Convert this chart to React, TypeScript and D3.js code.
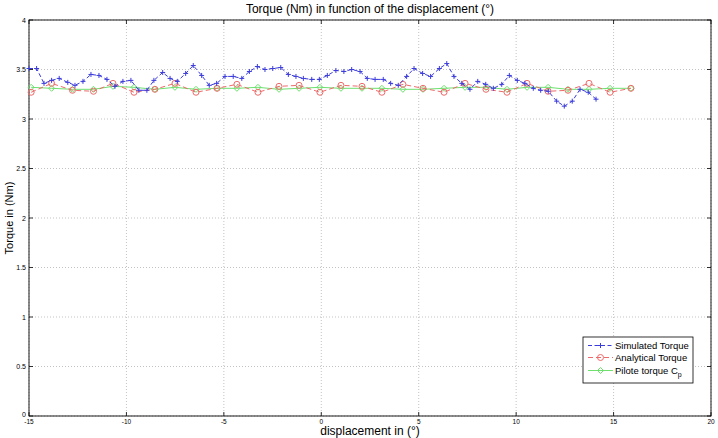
import * as d3 from 'd3';

// Simulated torque (blue, dashed, + markers)
const simX = [-15.0, -14.61, -14.23, -13.84, -13.45, -13.01, -12.64, -12.23, -11.82, -11.41,
  -11.0, -10.59, -10.18, -9.77, -9.36, -8.95, -8.59, -8.14, -7.76, -7.39,
  -6.96, -6.57, -6.14, -5.75, -5.37, -4.94, -4.52, -4.08, -3.69, -3.28,
  -2.89, -2.49, -2.08, -1.69, -1.3, -0.92, -0.49, -0.1, 0.31, 0.75,
  1.16, 1.56, 1.99, 2.36, 2.76, 3.18, 3.56, 3.95, 4.38, 4.76,
  5.2, 5.61, 6.06, 6.44, 6.81, 7.21, 7.63, 8.03, 8.44, 8.83,
  9.26, 9.65, 10.06, 10.45, 10.88, 11.26, 11.65, 12.08, 12.47, 12.88,
  13.28, 13.7, 14.1];
const simY = [3.51, 3.51, 3.36, 3.39, 3.41, 3.37, 3.34, 3.38, 3.45, 3.44,
  3.4, 3.33, 3.38, 3.39, 3.29, 3.29, 3.39, 3.47, 3.41, 3.38,
  3.46, 3.54, 3.44, 3.34, 3.36, 3.43, 3.43, 3.41, 3.48, 3.53,
  3.5, 3.51, 3.52, 3.45, 3.43, 3.41, 3.4, 3.4, 3.44, 3.49,
  3.48, 3.5, 3.48, 3.41, 3.4, 3.4, 3.36, 3.34, 3.43, 3.51,
  3.46, 3.43, 3.51, 3.56, 3.43, 3.36, 3.3, 3.38, 3.35, 3.31,
  3.35, 3.44, 3.39, 3.36, 3.31, 3.29, 3.28, 3.18, 3.13, 3.18,
  3.3, 3.27, 3.2];

// Analytical torque (red, dashed, circles) and pilote torque (green)
const anaX = [-14.89, -13.84, -12.77, -11.69, -10.69, -9.61, -8.54, -7.51, -6.43, -5.35,
  -4.33, -3.25, -2.17, -1.14, -0.07, 1.01, 2.09, 3.11, 4.19, 5.22,
  6.3, 7.38, 8.45, 9.53, 10.56, 11.64, 12.66, 13.74, 14.82, 15.89];
const anaY = [3.27, 3.36, 3.29, 3.28, 3.36, 3.27, 3.3, 3.36, 3.27, 3.31,
  3.35, 3.27, 3.33, 3.34, 3.27, 3.34, 3.33, 3.27, 3.35, 3.31,
  3.27, 3.36, 3.3, 3.27, 3.36, 3.28, 3.29, 3.36, 3.27, 3.31];
const pilY = [3.32, 3.31, 3.3, 3.3, 3.33, 3.32, 3.3, 3.32, 3.3, 3.31,
  3.31, 3.32, 3.3, 3.31, 3.32, 3.31, 3.31, 3.31, 3.3, 3.3,
  3.31, 3.32, 3.32, 3.3, 3.32, 3.32, 3.3, 3.3, 3.31, 3.31];

const xTicks = [-15, -10, -5, 0, 5, 10, 15, 20];
const yTicks = [0, 0.5, 1, 1.5, 2, 2.5, 3, 3.5, 4];

const W = 718;
const H = 438;
const m = { top: 20, right: 7, bottom: 22, left: 29 };

const blue = '#3c3cdc';
const red = '#ee6a6a';
const green = '#6ee06e';
const font = '"Liberation Sans", Arial, sans-serif';

export default function App() {
  const x = d3.scaleLinear().domain([-15, 20]).range([m.left, W - m.right]);
  const y = d3.scaleLinear().domain([0, 4]).range([H - m.bottom, m.top]);
  const x0 = m.left, x1 = W - m.right, y0 = H - m.bottom, y1 = m.top;

  const line = d3.line<[number, number]>().x(d => x(d[0])).y(d => y(d[1]));
  const sim = simX.map((v, i) => [v, simY[i]] as [number, number]);
  const ana = anaX.map((v, i) => [v, anaY[i]] as [number, number]);
  const pil = anaX.map((v, i) => [v, pilY[i]] as [number, number]);

  const plus = (cx: number, cy: number, c: string, k: string) => (
    <path key={k} d={`M${cx - 2.5},${cy}H${cx + 2.5}M${cx},${cy - 2.5}V${cy + 2.5}`} stroke={c} strokeWidth={1} />
  );
  const diamond = (cx: number, cy: number, c: string, k: string) => (
    <path key={k} d={`M${cx},${cy - 3}L${cx + 3},${cy}L${cx},${cy + 3}L${cx - 3},${cy}Z`} fill="none" stroke={c} strokeWidth={1} />
  );

  const lg = { x: 583, y: 337, w: 110, h: 46 };
  const rows = [345.5, 357.5, 370.5];

  return (
    <svg width={W} height={H} style={{ position: 'absolute', left: 0, top: 0, background: '#fff' }} fontFamily={font}>
      <rect width={W} height={H} fill="#fff" />
      {/* grid */}
      {xTicks.map(t => (
        <line key={'gx' + t} x1={x(t)} x2={x(t)} y1={y1} y2={y0} stroke="#b4b4b4" strokeWidth={0.8} strokeDasharray="1,2" />
      ))}
      {yTicks.map(t => (
        <line key={'gy' + t} x1={x0} x2={x1} y1={y(t)} y2={y(t)} stroke="#b4b4b4" strokeWidth={0.8} strokeDasharray="1,2" />
      ))}
      {/* ticks, inside on all four sides */}
      {xTicks.map(t => (
        <g key={'tx' + t} stroke="#000" strokeWidth={0.8}>
          <line x1={x(t)} x2={x(t)} y1={y0} y2={y0 - 4} />
          <line x1={x(t)} x2={x(t)} y1={y1} y2={y1 + 4} />
        </g>
      ))}
      {yTicks.map(t => (
        <g key={'ty' + t} stroke="#000" strokeWidth={0.8}>
          <line x1={x0} x2={x0 + 4} y1={y(t)} y2={y(t)} />
          <line x1={x1} x2={x1 - 4} y1={y(t)} y2={y(t)} />
        </g>
      ))}
      <rect x={x0} y={y1} width={x1 - x0} height={y0 - y1} fill="none" stroke="#000" strokeWidth={0.9} />
      {/* tick labels */}
      {xTicks.map(t => (
        <text key={'lx' + t} x={x(t)} y={y0 + 8} fontSize={6.5} textAnchor="middle" fill="#000">{t}</text>
      ))}
      {yTicks.map(t => (
        <text key={'ly' + t} x={x0 - 3} y={y(t) + (t === 0 ? 0.5 : 2.5)} fontSize={7} textAnchor="end" fill="#000">{t}</text>
      ))}

      {/* series */}
      <path d={line(pil) ?? ''} fill="none" stroke={green} strokeWidth={1} />
      {pil.map((d, i) => diamond(x(d[0]), y(d[1]), green, 'p' + i))}
      <path d={line(ana) ?? ''} fill="none" stroke={red} strokeWidth={1} strokeDasharray="5,3" />
      {ana.map((d, i) => (
        <circle key={'a' + i} cx={x(d[0])} cy={y(d[1])} r={3} fill="none" stroke={red} strokeWidth={1} />
      ))}
      <path d={line(sim) ?? ''} fill="none" stroke={blue} strokeWidth={1} strokeDasharray="4,2.5" />
      {sim.map((d, i) => plus(x(d[0]), y(d[1]), blue, 's' + i))}

      {/* legend */}
      <rect x={lg.x} y={lg.y} width={lg.w} height={lg.h} fill="#fff" stroke="#000" strokeWidth={0.8} />
      <line x1={588} x2={613} y1={rows[0]} y2={rows[0]} stroke={blue} strokeDasharray="4,2.5" />
      {plus(600.5, rows[0], blue, 'lg0')}
      <line x1={588} x2={613} y1={rows[1]} y2={rows[1]} stroke={red} strokeDasharray="5,3" />
      <circle cx={600.5} cy={rows[1]} r={3} fill="none" stroke={red} />
      <line x1={588} x2={613} y1={rows[2]} y2={rows[2]} stroke={green} />
      {diamond(600.5, rows[2], green, 'lg2')}
      <text x={615} y={rows[0] + 3.3} fontSize={9.5} fill="#000">Simulated Torque</text>
      <text x={615} y={rows[1] + 3.3} fontSize={9.5} fill="#000">Analytical Torque</text>
      <text x={615} y={rows[2] + 3.3} fontSize={9.5} fill="#000">
        Pilote torque C<tspan fontSize={7} dy={3}>p</tspan>
      </text>

      {/* titles */}
      <text x={(x0 + x1) / 2} y={13} fontSize={12} textAnchor="middle" fill="#000">
        Torque (Nm) in function of the displacement (°)
      </text>
      <text x={(x0 + x1) / 2} y={435} fontSize={12} textAnchor="middle" fill="#000">displacement in (°)</text>
      <text transform={`translate(13,${(y0 + y1) / 2}) rotate(-90)`} fontSize={11} textAnchor="middle" fill="#000">
        Torque in (Nm)
      </text>
    </svg>
  );
}
